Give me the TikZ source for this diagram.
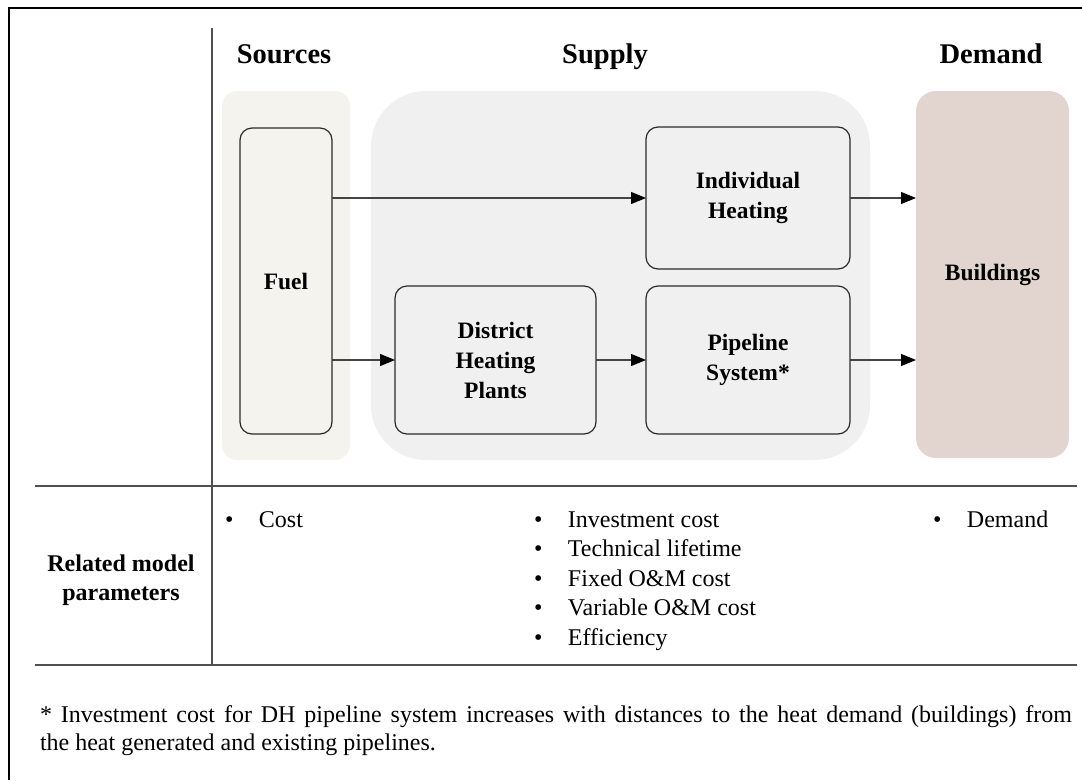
\documentclass[tikz,border=0pt]{standalone}
\usepackage{fontspec}
\setmainfont{Liberation Serif}
\usetikzlibrary{arrows.meta,positioning}

\definecolor{srcfill}{HTML}{F5F3EE}
\definecolor{supfill}{HTML}{F0F0F0}
\definecolor{bldfill}{HTML}{E2D4CF}
\definecolor{linegray}{HTML}{505050}
\definecolor{boxline}{HTML}{2A2A2A}

\begin{document}
\begin{tikzpicture}[x=1pt,y=-1pt,
    node distance=50pt,
    every node/.style={inner sep=0pt,outer sep=0pt},
    layer/.style={rectangle,draw=none,minimum height=369pt},
    unit/.style={rectangle,draw=boxline,line width=1.2pt,rounded corners=12pt,align=center,font=\fontsize{23.5}{30}\selectfont\bfseries},
    heading/.style={anchor=base,font=\fontsize{28.5}{34}\selectfont\bfseries},
    param/.style={anchor=base west,font=\fontsize{24}{29.5}\selectfont},
    rule/.style={draw=linegray,line width=1.3pt},
    arrow/.style={-{Triangle[length=15pt,width=12pt,color=black]},draw=linegray!85!black,line width=1.1pt}
]
\useasboundingbox (0,0) rectangle (1082,780);

% Frame and table rules
\draw[black,line width=1.3pt] (9,780) -- (9,8) -- (1082,8);
\draw[rule] (212,28) -- (212,666);
\draw[rule] (35,486) -- (1077,486);
\draw[rule] (35,665) -- (1077,665);

% Column headings
\node[heading] (sources) at (284,63) {Sources};
\node[heading] (supply) at (605,63) {Supply};
\node[heading] (demand) at (991,63) {Demand};

% Background layers
\node[layer,fill=srcfill,rounded corners=15pt,minimum width=128pt] (srcbg) at (286,275.5) {};
\node[layer,fill=supfill,rounded corners=55pt,minimum width=499pt] (supbg) at (620.5,275.5) {};
\node[layer,fill=bldfill,rounded corners=20pt,minimum width=153pt,minimum height=367pt,
      font=\fontsize{23.5}{30}\selectfont\bfseries] (bld) at (992.5,274.5) {Buildings};

% Units
\node[unit,minimum width=92pt,minimum height=306pt] (fuel) at (286,281) {Fuel};
\node[unit,minimum width=201pt,minimum height=148pt] (dhp) at (495.5,360) {District\\Heating\\Plants};
\node[unit,minimum width=204pt,minimum height=148pt,right=of dhp] (pipe) {Pipeline\\System*};
\node[unit,minimum width=204pt,minimum height=142pt,above=17pt of pipe] (indiv) {Individual\\Heating};

% Connections
\draw[arrow] (fuel.east |- indiv.west) -- (indiv.west);
\draw[arrow] (fuel.east |- dhp.west) -- (dhp.west);
\draw[arrow] (dhp) -- (pipe);
\draw[arrow] (indiv) -- (indiv -| bld.west);
\draw[arrow] (pipe) -- (pipe -| bld.west);

% Related model parameters
\node[font=\fontsize{24}{29}\selectfont\bfseries,align=center] (related) at (121,580) {Related model\\parameters};
\node[param] (cost) at (225,527) {\makebox[34pt][l]{\textbullet}Cost};
\foreach \txt [count=\i] in {Investment cost,Technical lifetime,Fixed O\&M cost,Variable O\&M cost,Efficiency}
  \node[param] (param\i) at (534,{527+29.5*(\i-1)}) {\makebox[34pt][l]{\textbullet}\txt};
\node[param] (demandpar) at (933,527) {\makebox[34pt][l]{\textbullet}Demand};

% Footnote
\node[param] (note1) at (40,722) {\makebox[1032pt][s]{* Investment cost for DH pipeline system increases with distances to the heat demand (buildings) from}};
\node[param] (note2) at (40,750) {the heat generated and existing pipelines.};

\end{tikzpicture}
\end{document}
